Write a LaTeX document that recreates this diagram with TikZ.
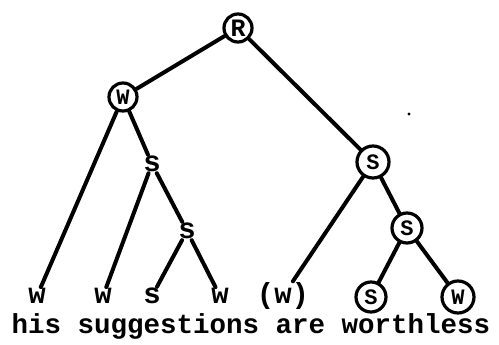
\documentclass[tikz,border=0pt]{standalone}
\usepackage{fontspec}
\setmonofont{Liberation Mono}
\begin{document}
\begin{tikzpicture}[x=1pt,y=-1pt,
  edge/.style={line width=4pt,line cap=round},
  circ/.style={circle,draw,line width=3.2pt,inner sep=0pt,minimum size=28pt,font=\ttfamily\bfseries\fontsize{22}{22}\selectfont},
  bare/.style={inner sep=1pt,font=\ttfamily\bfseries\fontsize{29}{29}\selectfont},
  txt/.style={inner sep=0pt,font=\ttfamily\bfseries\fontsize{27.5}{27.5}\selectfont}]
\useasboundingbox (0,0) rectangle (499,345);
\node[circ,font=\ttfamily\bfseries\fontsize{25}{25}\selectfont] (R) at (238,28) {R};
\node[circ] (W1) at (123,97) {W};
\node[bare] (s1) at (152,164) {s};
\node[circ,minimum size=32pt] (S1) at (373,162) {S};
\node[bare] (s2) at (187,231) {s};
\node[circ,minimum size=30pt] (S2) at (407,228) {S};
\node[bare] (l1) at (37,296) {w};
\node[bare] (l2) at (103,296) {w};
\node[bare] (l3) at (152,296) {s};
\node[bare] (l4) at (220,296) {w};
\node[bare] (l5) at (283,296) {(w)};
\node[circ,minimum size=30pt] (l6) at (371,297) {S};
\node[circ,minimum size=32pt] (l7) at (458,297) {W};
\node[txt] (t) at (251,326) {his suggestions are worthless};
\fill (409,114) circle (1.6pt);
\draw[edge] (R) -- (W1);
\draw[edge] (R) -- (S1);
\draw[edge] (W1) -- (l1);
\draw[edge] (W1) -- (s1);
\draw[edge] (s1) -- (l2);
\draw[edge] (s1) -- (s2);
\draw[edge] (s2) -- (l3);
\draw[edge] (s2) -- (l4);
\draw[edge] (S1) -- (l5);
\draw[edge] (S1) -- (S2);
\draw[edge] (S2) -- (l6);
\draw[edge] (S2) -- (l7);
\end{tikzpicture}
\end{document}
